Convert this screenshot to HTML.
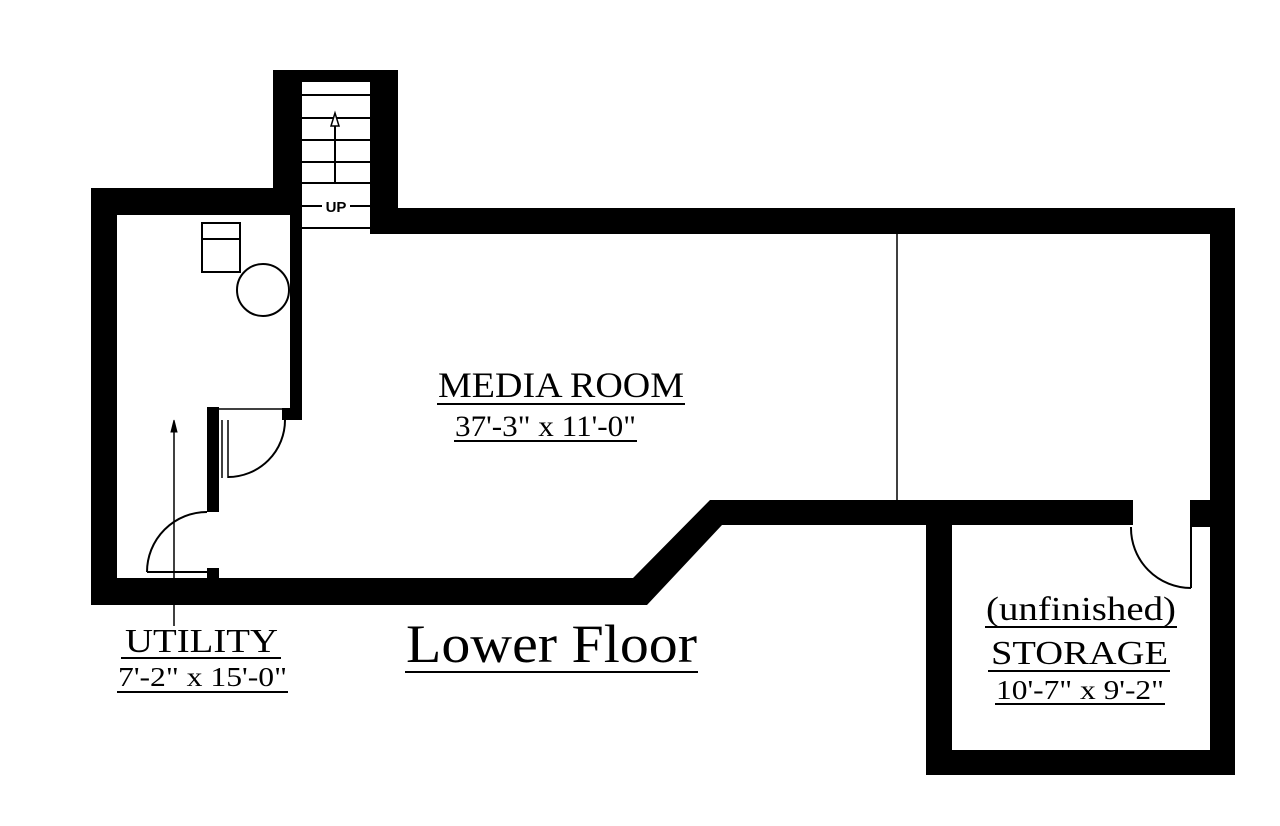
<!DOCTYPE html>
<html><head><meta charset="utf-8"><style>html,body{margin:0;padding:0;background:#fff}svg{display:block}</style></head>
<body>
<svg width="1280" height="826" viewBox="0 0 1280 826" xmlns="http://www.w3.org/2000/svg">
<rect width="1280" height="826" fill="#fff"/>
<g fill="#000">
<rect x="91" y="188" width="26" height="417"/>
<rect x="91" y="188" width="211" height="27"/>
<rect x="273" y="70" width="29" height="145"/>
<rect x="273" y="70" width="125" height="12"/>
<rect x="370" y="70" width="28" height="164"/>
<rect x="370" y="208" width="865" height="26"/>
<rect x="1210" y="208" width="25" height="567"/>
<rect x="1190" y="500" width="20" height="27"/>
<polygon points="117,578 633,578 710,500 1133,500 1133,525 722,525 647,605 91,605"/>
<rect x="926" y="525" width="26" height="250"/>
<rect x="926" y="750" width="309" height="25"/>
<rect x="290" y="215" width="12" height="205"/>
<rect x="282" y="408" width="19" height="12"/>
<rect x="207" y="407" width="12" height="105"/>
<rect x="207" y="568" width="12" height="10"/>
</g>
<g fill="none" stroke="#000" stroke-width="2">
<line x1="302" y1="95" x2="370" y2="95"/>
<line x1="302" y1="118" x2="370" y2="118"/>
<line x1="302" y1="140" x2="370" y2="140"/>
<line x1="302" y1="162" x2="370" y2="162"/>
<line x1="302" y1="183" x2="370" y2="183"/>
<line x1="302" y1="206" x2="322" y2="206"/>
<line x1="350" y1="206" x2="370" y2="206"/>
<line x1="302" y1="228" x2="370" y2="228"/>
<line x1="335" y1="183" x2="335" y2="125"/>
<polygon points="335,113 331,126 339,126" stroke-width="1.5" fill="#fff"/>
<rect x="202" y="223" width="38" height="49"/>
<line x1="202" y1="239" x2="240" y2="239"/>
<circle cx="263" cy="290" r="26"/>
<line x1="219" y1="409" x2="283" y2="409" stroke-width="1.5"/>
<line x1="222" y1="420" x2="222" y2="478" stroke-width="1.5"/>
<line x1="228" y1="420" x2="228" y2="478" stroke-width="1.5"/>
<path d="M285,420 A57,57 0 0 1 228,477"/>
<line x1="147" y1="572" x2="207" y2="572"/>
<path d="M147,572 A60,60 0 0 1 207,512"/>
<line x1="174" y1="430" x2="174" y2="626" stroke-width="1.5"/>
<polygon points="174,420 171,432 177,432" fill="#000" stroke-width="1"/>
<line x1="897" y1="234" x2="897" y2="500" stroke-width="1.5"/>
<path d="M1131,527 A60,60 0 0 0 1191,588"/>
<line x1="1191" y1="527" x2="1191" y2="588"/>
</g>
<g font-family="Liberation Serif, serif" fill="#000">
<text x="336" y="212" font-family="Liberation Sans, sans-serif" font-size="15" font-weight="bold" text-anchor="middle">UP</text>
<text x="438" y="397" font-size="36" textLength="246" lengthAdjust="spacingAndGlyphs">MEDIA ROOM</text>
<text x="455" y="436" font-size="30" textLength="181" lengthAdjust="spacingAndGlyphs">37'-3" x 11'-0"</text>
<text x="125" y="652" font-size="34" textLength="153" lengthAdjust="spacingAndGlyphs">UTILITY</text>
<text x="118" y="686" font-size="27" textLength="169" lengthAdjust="spacingAndGlyphs">7'-2" x 15'-0"</text>
<text x="406" y="662" font-size="54" textLength="291" lengthAdjust="spacingAndGlyphs">Lower Floor</text>
<text x="986" y="620" font-size="34" textLength="190" lengthAdjust="spacingAndGlyphs">(unfinished)</text>
<text x="991" y="664" font-size="34" textLength="177" lengthAdjust="spacingAndGlyphs">STORAGE</text>
<text x="996" y="699" font-size="27" textLength="168" lengthAdjust="spacingAndGlyphs">10'-7" x 9'-2"</text>
</g>
<g stroke="#000" stroke-width="2">
<line x1="437" y1="404" x2="685" y2="404"/>
<line x1="454" y1="441" x2="637" y2="441"/>
<line x1="121" y1="658" x2="281" y2="658"/>
<line x1="117" y1="692" x2="288" y2="692"/>
<line x1="405" y1="672" x2="698" y2="672"/>
<line x1="985" y1="627" x2="1177" y2="627"/>
<line x1="988" y1="671" x2="1170" y2="671"/>
<line x1="995" y1="704" x2="1165" y2="704"/>
</g>
</svg>
</body></html>
